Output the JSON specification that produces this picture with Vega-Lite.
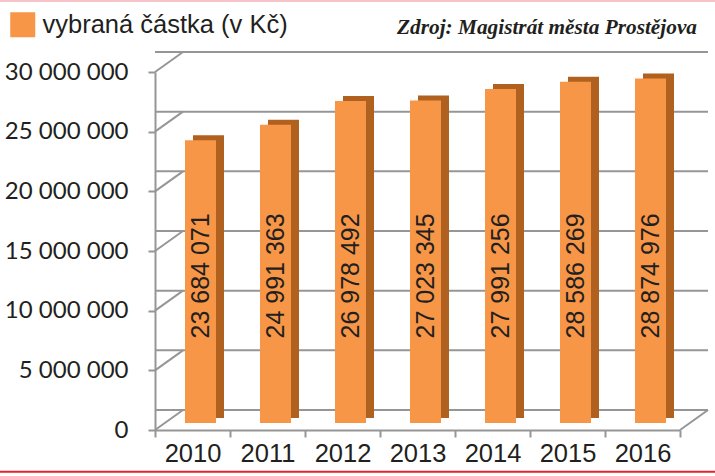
{
  "$schema": "https://vega.github.io/schema/vega-lite/v6.json",
  "width": 525,
  "height": 358,
  "autosize": {"type": "none"},
  "padding": {"left": 155, "top": 72, "right": 35, "bottom": 46},
  "background": "white",
  "config": {
    "view": {"stroke": null},
    "locale": {"number": {"decimal": ",", "thousands": " ", "grouping": [3], "currency": ["", " Kč"]}}
  },
  "resolve": {"axis": {"x": "independent", "y": "independent"}},
  "datasets": {
    "bars": [
      {"year": "2010", "value": 23684071},
      {"year": "2011", "value": 24991363},
      {"year": "2012", "value": 26978492},
      {"year": "2013", "value": 27023345},
      {"year": "2014", "value": 27991256},
      {"year": "2015", "value": 28586269},
      {"year": "2016", "value": 28874976}
    ],
    "ticks": [
      {"v": 0}, {"v": 5000000}, {"v": 10000000}, {"v": 15000000},
      {"v": 20000000}, {"v": 25000000}, {"v": 30000000}
    ],
    "source": [{"text": "Zdroj: Magistrát města Prostějova"}]
  },
  "layer": [
    {
      "data": {"name": "ticks"},
      "mark": {"type": "rule", "color": "#969696", "strokeWidth": 2, "xOffset": 28, "yOffset": -20},
      "encoding": {
        "y": {"field": "v", "type": "quantitative", "scale": {"domain": [0, 30000000], "nice": false}, "axis": null}
      }
    },
    {
      "data": {"name": "ticks"},
      "mark": {"type": "rule", "color": "#969696", "strokeWidth": 2, "x2Offset": 28, "y2Offset": -20},
      "encoding": {
        "x": {"datum": "2010", "type": "ordinal", "bandPosition": 0, "scale": {"domain": ["2010","2011","2012","2013","2014","2015","2016"]}, "axis": null},
        "x2": {"datum": "2010", "bandPosition": 0},
        "y": {"field": "v", "type": "quantitative", "scale": {"domain": [0, 30000000], "nice": false}, "axis": null},
        "y2": {"field": "v"}
      }
    },
    {
      "data": {"values": [{}]},
      "mark": {"type": "rule", "color": "#969696", "strokeWidth": 2, "x2Offset": 28, "y2Offset": -20},
      "encoding": {
        "x": {"datum": "2016", "type": "ordinal", "bandPosition": 1, "scale": {"domain": ["2010","2011","2012","2013","2014","2015","2016"]}, "axis": null},
        "x2": {"datum": "2016", "bandPosition": 1},
        "y": {"datum": 0, "type": "quantitative", "scale": {"domain": [0, 30000000], "nice": false}, "axis": null},
        "y2": {"datum": 0}
      }
    },
    {
      "data": {"name": "bars"},
      "mark": {"type": "bar", "size": 31, "xOffset": 16, "yOffset": -12, "y2Offset": -12, "color": "#b0611f"},
      "encoding": {
        "x": {"field": "year", "type": "ordinal", "scale": {"domain": ["2010","2011","2012","2013","2014","2015","2016"]}, "axis": null},
        "y": {"field": "value", "type": "quantitative", "scale": {"domain": [0, 30000000], "nice": false}, "axis": null}
      }
    },
    {
      "data": {"name": "bars"},
      "mark": {"type": "bar", "size": 31, "xOffset": 8, "yOffset": -7, "y2Offset": -7},
      "encoding": {
        "x": {
          "field": "year", "type": "ordinal",
          "scale": {"domain": ["2010","2011","2012","2013","2014","2015","2016"], "paddingInner": 0, "paddingOuter": 0},
          "axis": {
            "title": null, "labelAngle": 0, "tickBand": "extent",
            "domainColor": "#969696", "domainWidth": 2,
            "tickColor": "#969696", "tickWidth": 2, "tickSize": 7,
            "labelFont": "Liberation Sans, Arial, sans-serif", "labelFontSize": 25.5, "labelColor": "#231f20",
            "labelPadding": 4
          }
        },
        "y": {
          "field": "value", "type": "quantitative",
          "scale": {"domain": [0, 30000000], "nice": false},
          "axis": {
            "title": null, "values": [0, 5000000, 10000000, 15000000, 20000000, 25000000, 30000000],
            "format": ",d", "grid": false,
            "domainColor": "#969696", "domainWidth": 2,
            "tickColor": "#969696", "tickWidth": 2, "tickSize": 7,
            "labelFont": "Lato, sans-serif", "labelFontSize": 24, "labelColor": "#231f20",
            "labelPadding": 20
          }
        },
        "color": {
          "datum": "vybraná částka (v Kč)",
          "type": "nominal",
          "scale": {"range": ["#f79646"]},
          "legend": {
            "title": null, "orient": "none", "legendX": -145, "legendY": -60,
            "symbolType": "square", "symbolSize": 625, "symbolStrokeWidth": 0,
            "labelFont": "Liberation Sans, Arial, sans-serif", "labelFontSize": 25.5, "labelColor": "#231f20",
            "labelOffset": 7, "padding": 0, "labelLimit": 0,
            "encode": {"symbols": {"update": {"fill": {"value": "#f47920"}, "opacity": {"value": 1}}}}
          }
        }
      }
    },
    {
      "data": {"name": "bars"},
      "mark": {"type": "text", "angle": 270, "align": "left", "baseline": "middle", "xOffset": 8, "yOffset": -8, "font": "Liberation Sans, Arial, sans-serif", "fontSize": 25, "color": "#231f20"},
      "encoding": {
        "x": {"field": "year", "type": "ordinal", "scale": {"domain": ["2010","2011","2012","2013","2014","2015","2016"]}, "axis": null},
        "y": {"datum": 7000000, "type": "quantitative", "scale": {"domain": [0, 30000000], "nice": false}, "axis": null},
        "text": {"field": "value", "type": "quantitative", "format": ",d"}
      }
    },
    {
      "data": {"name": "source"},
      "mark": {"type": "text", "align": "right", "baseline": "alphabetic", "xOffset": 17, "font": "Liberation Serif, Times New Roman, serif", "fontStyle": "italic", "fontWeight": "bold", "fontSize": 21.3, "color": "#231f20"},
      "encoding": {
        "x": {"datum": "2016", "type": "ordinal", "bandPosition": 1, "scale": {"domain": ["2010","2011","2012","2013","2014","2015","2016"]}, "axis": null},
        "y": {"datum": 33200000, "type": "quantitative", "scale": {"domain": [0, 30000000], "nice": false}, "axis": null},
        "text": {"field": "text"}
      }
    },
    {
      "data": {"values": [{}]},
      "mark": {"type": "rule", "color": "#e2232f", "strokeWidth": 2, "xOffset": -155, "x2Offset": 35},
      "encoding": {
        "x": {"datum": "2010", "type": "ordinal", "bandPosition": 0, "scale": {"domain": ["2010","2011","2012","2013","2014","2015","2016"]}, "axis": null},
        "x2": {"datum": "2016", "bandPosition": 1},
        "y": {"datum": -3500000, "type": "quantitative", "scale": {"domain": [0, 30000000], "nice": false}, "axis": null}
      }
    },
    {
      "data": {"values": [{}]},
      "mark": {"type": "rule", "color": "#f5c3c8", "strokeWidth": 2, "xOffset": -155, "x2Offset": 35},
      "encoding": {
        "x": {"datum": "2010", "type": "ordinal", "bandPosition": 0, "scale": {"domain": ["2010","2011","2012","2013","2014","2015","2016"]}, "axis": null},
        "x2": {"datum": "2016", "bandPosition": 1},
        "y": {"datum": 35950000, "type": "quantitative", "scale": {"domain": [0, 30000000], "nice": false}, "axis": null}
      }
    }
  ]
}
